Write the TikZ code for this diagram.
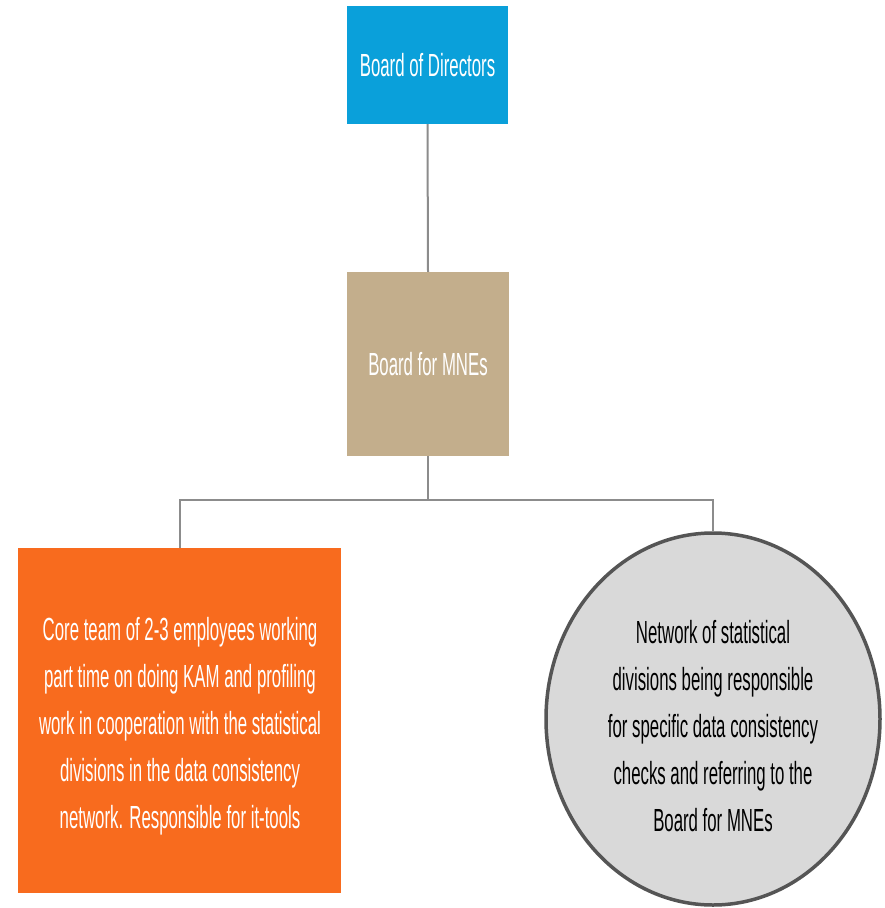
\documentclass[tikz,border=0pt]{standalone}
\usepackage{fontspec}
\setmainfont{Liberation Sans}
\newfontfamily\narrowfont{Liberation Sans}[FakeStretch=0.525]
\usetikzlibrary{shapes.geometric}
\definecolor{bodblue}{HTML}{0AA0DA}
\definecolor{mnetan}{HTML}{C3AE8C}
\definecolor{coreorange}{HTML}{F86B1E}
\definecolor{netgrey}{HTML}{D9D9D9}
\definecolor{netedge}{HTML}{555555}
\definecolor{linkgrey}{HTML}{8C8C8C}
\tikzset{
  boxnode/.style={rectangle, inner sep=0pt, text=white, align=center,
    font=\narrowfont\fontsize{32}{47}\selectfont},
  link/.style={draw=linkgrey, line width=2pt},
}
\begin{document}
\begin{tikzpicture}[x=1pt,y=-1pt]
\useasboundingbox[fill=white] (0,0) rectangle (885,908);
\node[boxnode, fill=bodblue, minimum width=161pt, minimum height=118pt] (bod) at (427.5,65) {Board of Directors};
\node[boxnode, fill=mnetan, minimum width=162pt, minimum height=184pt] (mne) at (428,364) {Board for MNEs};
\node[boxnode, fill=coreorange, minimum width=323pt, minimum height=345pt] (core) at (179.5,720.5) {};
\node[boxnode] (coretext) at (180,726) {Core team of 2-3 employees working\\part time on doing KAM and profiling\\work in cooperation with the statistical\\divisions in the data consistency\\network. Responsible for it-tools};
\node[ellipse, draw=netedge, line width=3.5pt, fill=netgrey, minimum width=334pt, minimum height=372pt, inner sep=0pt] (net) at (713,719) {};
\node[boxnode, text=black] (nettext) at (713,726) {Network of statistical\\divisions being responsible\\for specific data consistency\\checks and referring to the\\Board for MNEs};
\coordinate (j) at (428,500);
\draw[link] (bod.south) -- (mne.north);
\draw[link] (mne.south) -- (j);
\draw[link] (core.north) |- (j) -| (net.north);
\end{tikzpicture}
\end{document}
